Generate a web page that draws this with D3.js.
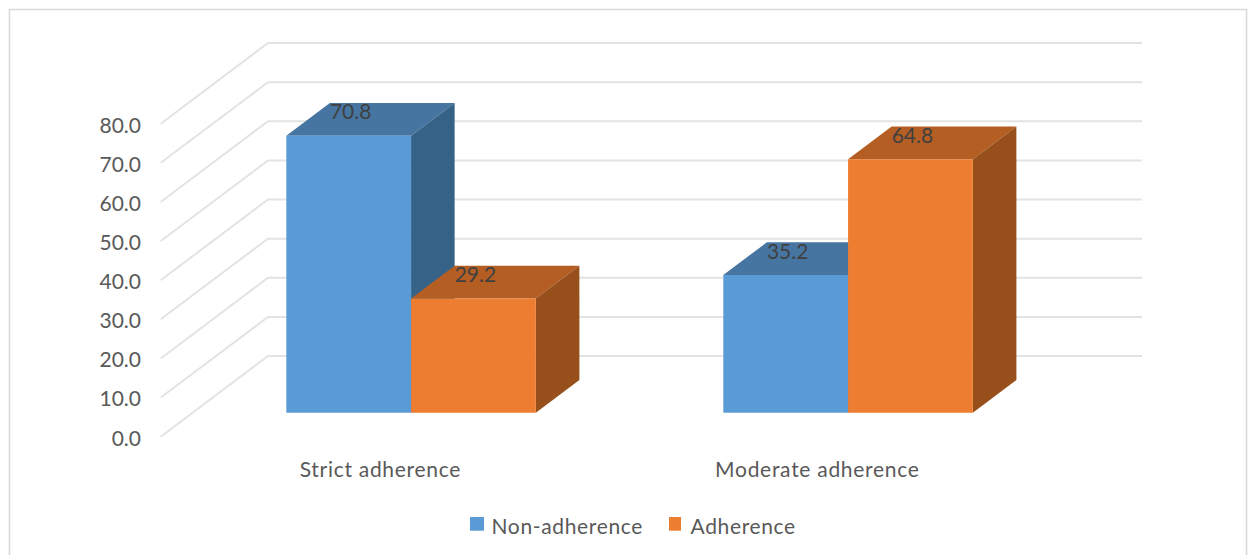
<!DOCTYPE html>
<html>
<head>
<meta charset="utf-8">
<style>
  html, body { margin: 0; padding: 0; background: #fff; }
  svg { display: block; }
  text { font-family: Lato, "Noto Sans", sans-serif; }
</style>
<script src="https://cdn.jsdelivr.net/npm/d3@7"></script>
</head>
<body>
<svg id="chart" width="1248" height="555"></svg>
<script>
// Adherence shares per category, drawn as pseudo-3D clustered columns
const categories = ["Strict adherence", "Moderate adherence"];
const seriesNames = ["Non-adherence", "Adherence"];
const nonAdherence = [70.8, 35.2];
const adherence = [29.2, 64.8];
const yTicks = [0, 10, 20, 30, 40, 50, 60, 70, 80];
const faceColors = {
  "Non-adherence": { front: "#5B9BD5", top: "#4675A2", side: "#376287" },
  "Adherence": { front: "#ED7D31", top: "#B45E23", side: "#97501C" }
};

const svg = d3.select("#chart");
const fontFamily = 'Lato, "Noto Sans", sans-serif';

// Floor-front scales; a depth value z in 0..1 shifts a point up and to the right
const depthX = 107.3, depthY = 80.7;
const y = d3.scaleLinear().domain([0, 80]).range([436.7, 123.7]);
const x0 = d3.scaleBand().domain(categories).range([160.7, 1034.7]).paddingInner(0.429).paddingOuter(0.2145);
const x1 = d3.scaleBand().domain(seriesNames).range([0, x0.bandwidth()]);
const project = (px, v, z) => [px + z * depthX, y(v) - z * depthY];
const polygon = pts => d3.line()(pts) + "Z";
const zFront = 0.297, zBack = 0.703;

// Chart frame: the lower edge falls outside the visible area
svg.append("path")
  .attr("d", "M9.5,555V9.5H1246.5V555")
  .attr("fill", "none").attr("stroke", "#D9D9D9").attr("stroke-width", 1.6);

// Gridlines: slanted along the side wall, then flat across the back wall
const grid = svg.append("g").attr("fill", "none").attr("stroke", "#E3E3E3").attr("stroke-width", 2);
grid.selectAll("path").data(yTicks).join("path")
  .attr("d", t => d3.line()([project(x0.range()[0], t, 0), project(x0.range()[0], t, 1), project(x0.range()[1], t, 1)]));

// Value axis sits at the front edge of the side wall
const yAxis = svg.append("g")
  .attr("transform", "translate(141,1.6)")
  .call(d3.axisLeft(y).tickValues(yTicks).tickSize(0).tickPadding(0).tickFormat(d3.format(".1f")));
yAxis.select(".domain").remove();
yAxis.selectAll("text").attr("fill", "#595959").attr("font-size", 21).style("font-family", fontFamily);

// Columns: each one is a top, a side and a front face
const records = categories.flatMap((c, i) => [
  { category: c, series: seriesNames[0], value: nonAdherence[i] },
  { category: c, series: seriesNames[1], value: adherence[i] }
]);
const bars = svg.append("g").selectAll("g").data(records).join("g");
const left = d => x0(d.category) + x1(d.series);
const right = d => left(d) + x1.bandwidth();

bars.append("path").attr("fill", d => faceColors[d.series].top)
  .attr("d", d => polygon([
    project(left(d), d.value, zFront), project(right(d), d.value, zFront),
    project(right(d), d.value, zBack), project(left(d), d.value, zBack)]));
bars.append("path").attr("fill", d => faceColors[d.series].side)
  .attr("d", d => polygon([
    project(right(d), 0, zFront), project(right(d), d.value, zFront),
    project(right(d), d.value, zBack), project(right(d), 0, zBack)]));
bars.append("path").attr("fill", d => faceColors[d.series].front)
  .attr("d", d => polygon([
    project(left(d), 0, zFront), project(right(d), 0, zFront),
    project(right(d), d.value, zFront), project(left(d), d.value, zFront)]));

// Value labels rest on the top face of each column
svg.append("g").selectAll("text").data(records).join("text")
  .attr("x", d => project(left(d) + x1.bandwidth() / 2, d.value, zFront)[0] + 2)
  .attr("y", d => project(left(d), d.value, zFront)[1] - 16.5)
  .attr("text-anchor", "middle").attr("font-size", 21).attr("fill", "#404040")
  .text(d => d3.format(".1f")(d.value));

// Category labels below the floor
svg.append("g").selectAll("text").data(categories).join("text")
  .attr("x", c => x0(c) + x0.bandwidth() / 2 + 1.2)
  .attr("y", 477)
  .attr("text-anchor", "middle").attr("font-size", 21).attr("letter-spacing", 0.72).attr("fill", "#595959")
  .text(c => c);

// Legend along the bottom of the frame
const legendItems = [
  { name: seriesNames[0], swatch: 470, width: 14, label: 491.5 },
  { name: seriesNames[1], swatch: 669, width: 12, label: 690.5 }
];
const legend = svg.append("g").selectAll("g").data(legendItems).join("g");
legend.append("rect")
  .attr("x", d => d.swatch).attr("y", 517).attr("width", d => d.width).attr("height", 13.7)
  .attr("fill", d => faceColors[d.name].front);
legend.append("text")
  .attr("x", d => d.label).attr("y", 534)
  .attr("font-size", 21).attr("letter-spacing", 0.65).attr("fill", "#595959")
  .text(d => d.name);
</script>
</body>
</html>
